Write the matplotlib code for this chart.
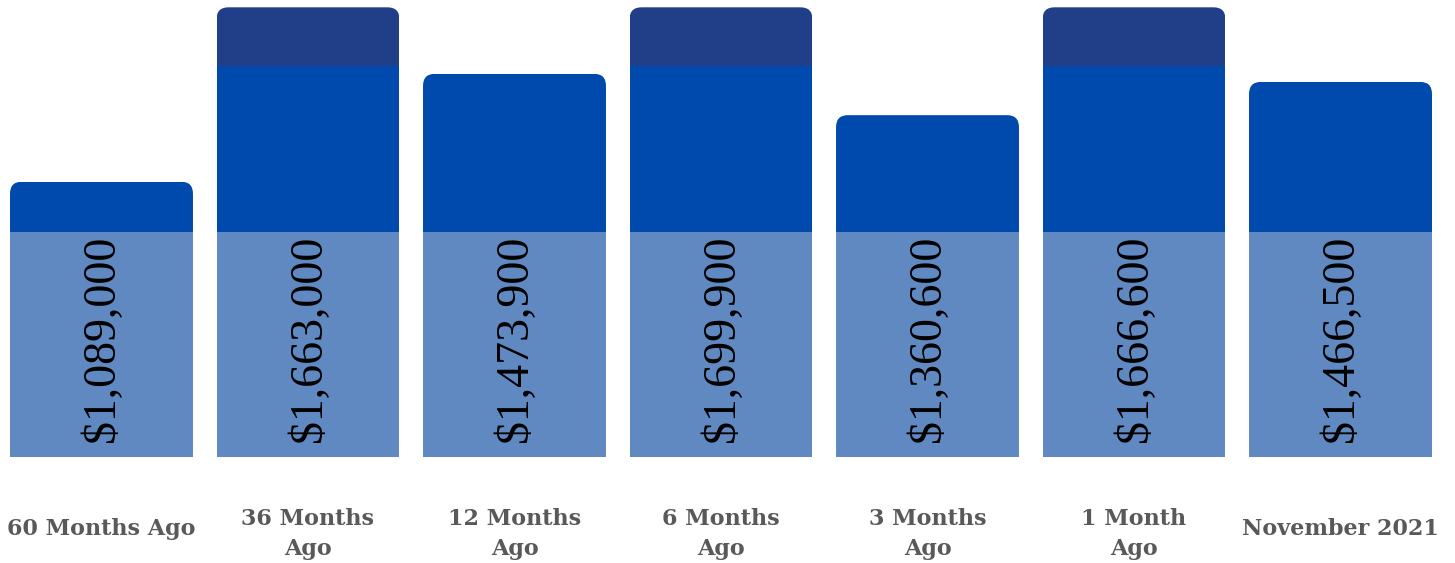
import matplotlib
matplotlib.use("Agg")
import matplotlib.pyplot as plt
from matplotlib.patches import FancyBboxPatch
import matplotlib.transforms as mtransforms

# ---- data ----
categories = ["60 Months Ago", "36 Months\nAgo", "12 Months\nAgo", "6 Months\nAgo",
              "3 Months\nAgo", "1 Month\nAgo", "November 2021"]
price_labels = [r"\$1,089,000", r"\$1,663,000", r"\$1,473,900", r"\$1,699,900",
                r"\$1,360,600", r"\$1,666,600", r"\$1,466,500"]
# bar heights as drawn (percent of plot height)
bar_heights = [61.2, 100.0, 85.2, 100.0, 76.0, 100.0, 83.4]
# colour band limits (percent of plot height)
band_edges = [50.1, 87.0]
band_colors = ["#6189C1", "#004AAD", "#213F88"]

# ---- figure ----
W_PX, H_PX, DPI = 1455, 563, 100
fig = plt.figure(figsize=(W_PX / DPI, H_PX / DPI), dpi=DPI)
ax_left_px, ax_w_px = 0, 1445
ax_bottom_px, ax_h_px = 563 - 456.7, 449.4
ax = fig.add_axes([ax_left_px / W_PX, ax_bottom_px / H_PX, ax_w_px / W_PX, ax_h_px / H_PX])
ax.set_xlim(-0.4915, 6.506)
ax.set_ylim(0, 100)
ax.axis("off")

px_per_x = ax_w_px / (6.506 + 0.4915)
px_per_y = ax_h_px / 100.0
bar_w = 0.886
r_px = 12
rx = r_px / px_per_x
aspect = px_per_x / px_per_y

edges = [0.0] + band_edges + [float("inf")]
for i, h in enumerate(bar_heights):
    clip = FancyBboxPatch((i - bar_w / 2, -10), bar_w, h + 10,
                          boxstyle=f"round,pad=0,rounding_size={rx}",
                          mutation_aspect=aspect, transform=ax.transData)
    for k in range(3):
        lo = edges[k]
        hi = min(edges[k + 1], h)
        if hi <= lo:
            continue
        bars = ax.bar(i, hi - lo, bottom=lo, width=bar_w, color=band_colors[k],
                      linewidth=0)
        for b in bars:
            b.set_clip_path(clip)
    ax.text(i + 1.5 / px_per_x, 3.3, price_labels[i], rotation=90, ha="center", va="bottom",
            fontsize=33, family="Liberation Serif", color="black")

trans = mtransforms.blended_transform_factory(ax.transData, ax.transAxes)
for i, cat in enumerate(categories):
    n_lines = cat.count("\n") + 1
    y_px = 529 if n_lines == 1 else 534
    y_ax = -(y_px - 456.7) / ax_h_px
    ax.text(i, y_ax, cat, transform=trans, ha="center", va="center",
            multialignment="center", linespacing=1.5,
            fontsize=16, fontweight="bold", family="DejaVu Serif",
            color="#595959", clip_on=False)

fig.savefig("out.png", dpi=DPI)
